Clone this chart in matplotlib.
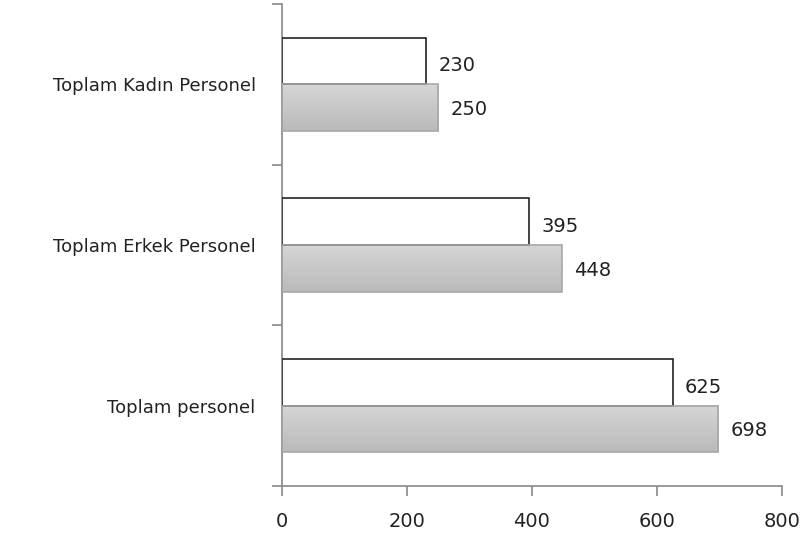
import numpy as np
import matplotlib.pyplot as plt
from matplotlib.colors import LinearSegmentedColormap

# veriler
categories = ['Toplam personel', 'Toplam Erkek Personel', 'Toplam Kadın Personel']
white_values = [625, 395, 230]
gray_values = [698, 448, 250]
xticks = [0, 200, 400, 600, 800]


def draw_chart():
    fig = plt.figure(figsize=(8.06, 5.39), dpi=100)
    ax = fig.add_axes([0.35, 0.0983, 0.62, 0.8943])

    y = np.arange(len(categories))
    h = 0.29

    # beyaz çubuklar
    ax.barh(y + h / 2, white_values, height=h, color='white',
            edgecolor='#222222', linewidth=1.2, zorder=3)

    # gri çubuklar (dikey degrade: üst açık, alt koyu)
    grad = np.linspace(0, 1, 100).reshape(-1, 1)
    cmap = LinearSegmentedColormap.from_list('g', ['#d6d6d6', '#bababa'])
    for yi, v in zip(y, gray_values):
        ax.imshow(grad, cmap=cmap, extent=[0, v, yi - h, yi],
                  aspect='auto', zorder=2, origin='upper')
    ax.barh(y - h / 2, gray_values, height=h, color='none',
            edgecolor='#a8a8a8', linewidth=1.2, zorder=3)

    for yi, v in zip(y, white_values):
        ax.text(v + 20, yi + h / 2 - 0.03, str(v), va='center', ha='left',
                fontsize=14, color='#222222')
    for yi, v in zip(y, gray_values):
        ax.text(v + 20, yi - h / 2 - 0.012, str(v), va='center', ha='left',
                fontsize=14, color='#222222')

    ax.set_xlim(0, 800)
    ax.set_ylim(-0.5, 2.5)
    ax.set_xticks(xticks)
    ax.set_xticklabels([str(t) for t in xticks], fontsize=14, color='#222222')
    ax.set_yticks(y)
    ax.set_yticklabels(categories, fontsize=13, color='#222222')
    ax.set_yticks(np.arange(-0.5, len(categories), 1), minor=True)

    ax.tick_params(axis='y', which='major', length=0, pad=19)
    ax.tick_params(axis='y', which='minor', length=7, color='#888888', width=1.2)
    ax.tick_params(axis='x', length=7, color='#888888', width=1.2, pad=12)

    for s in ['top', 'right']:
        ax.spines[s].set_visible(False)
    for s in ['left', 'bottom']:
        ax.spines[s].set_color('#888888')
        ax.spines[s].set_linewidth(1.2)

    fig.savefig('out.png', dpi=100)


if __name__ == '__main__':
    draw_chart()
